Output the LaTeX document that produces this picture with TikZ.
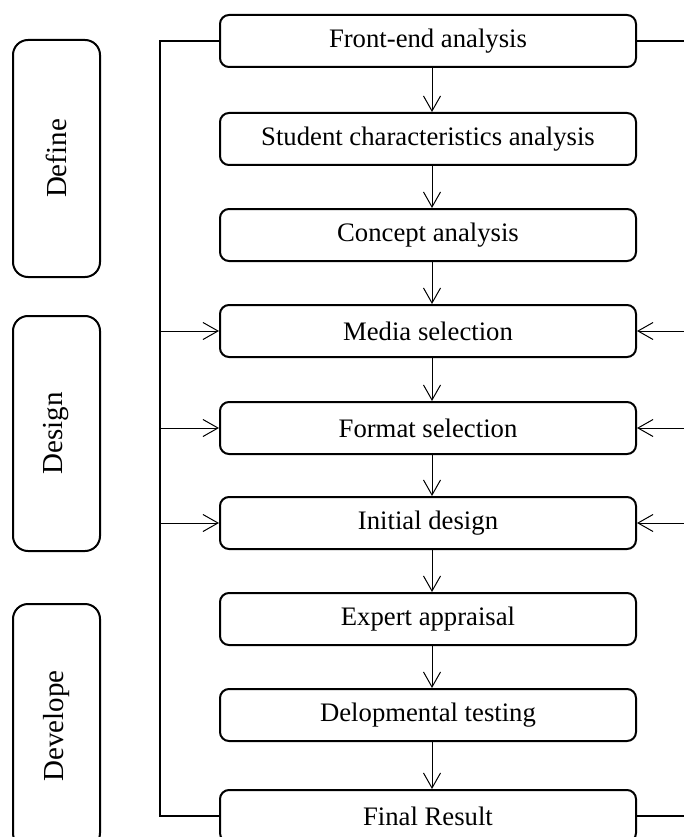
\documentclass[tikz,border=0pt]{standalone}
\usepackage{fontspec}
\setmainfont{Liberation Serif}
\usetikzlibrary{arrows.meta}
\begin{document}
\begin{tikzpicture}[x=1pt,y=-1pt,
  txt/.style={font=\fontsize{26.7}{32}\selectfont},
  stage/.style={draw, line width=2pt, rounded corners=9pt, minimum width=416pt,
    minimum height=52pt, inner sep=0pt, txt},
  phase/.style={draw, line width=2pt, rounded corners=15pt, rotate=90,
    minimum height=87pt, inner sep=0pt, font=\fontsize{29}{34}\selectfont},
  flow/.style={line width=1pt, -{Straight Barb[length=15pt,width=17pt,line width=1pt]}},
  bus/.style={line width=2pt}
]
\useasboundingbox (0,0) rectangle (684,837);
\clip (0,0) rectangle (684,837);

% phase boxes
\node[phase, minimum width=237pt] (define) at (56.5,158.5) {Define};
\node[phase, minimum width=235pt] (design) at (56.5,433.5) {Design};
\node[phase, minimum width=244pt] (develope) at (56.5,726) {Develope};

% stage boxes
\node[stage] (front)   at (428,41)  {Front-end analysis};
\node[stage] (student) at (428,139) {Student characteristics analysis};
\node[stage] (concept) at (428,235) {Concept analysis};
\node[stage] (media)   at (428,331) {Media selection};
\node[stage] (format)  at (428,428) {Format selection};
\node[stage] (initial) at (428,523) {Initial design};
\node[stage] (expert)  at (428,619) {Expert appraisal};
\node[stage] (devtest) at (428,715) {Delopmental testing};
\node[stage] (final)   at (428,816) {Final Result};

% vertical flow
\foreach \a/\b in {front/student, student/concept, concept/media, media/format,
  format/initial, initial/expert, expert/devtest, devtest/final}
  \draw[flow] ([xshift=4pt]\a.south) -- ([xshift=4pt]\b.north);

% buses
\coordinate (L) at (160,0);
\coordinate (R) at (692,0);
\draw[bus] (front.west) -- (front.west -| L) -- (final.west -| L) -- (final.west);
\draw[bus] (front.east) -- (front.east -| R) -- (final.east -| R) -- (final.east);

\foreach \n in {media, format, initial} {
  \draw[flow] (\n.west -| L) -- (\n.west);
  \draw[flow] (\n.east -| R) -- (\n.east);
}
\end{tikzpicture}
\end{document}
